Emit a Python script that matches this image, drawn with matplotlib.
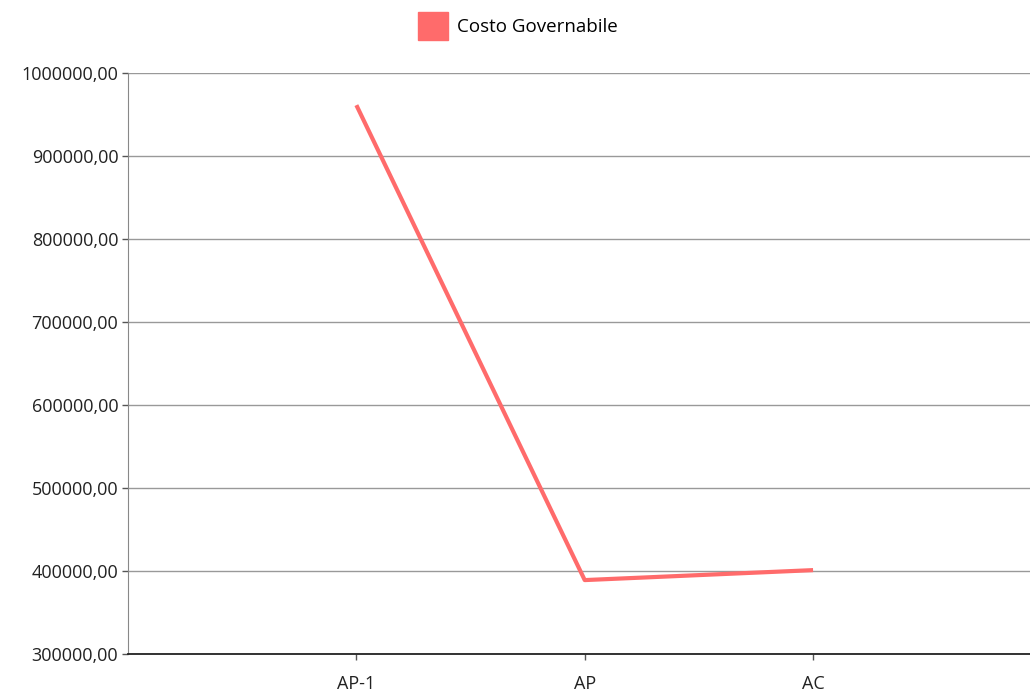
import matplotlib.pyplot as plt
from matplotlib.patches import Patch

categorie = ["AP-1", "AP", "AC"]
costo_governabile = [961000, 389000, 401000]
tick_y = [300000, 400000, 500000, 600000, 700000, 800000, 900000, 1000000]

colore = "#ff6b6b"

plt.rcParams['font.family'] = ['Open Sans', 'DejaVu Sans']

fig = plt.figure(figsize=(10.3, 6.93), dpi=100)
ax = fig.add_axes([0.1243, 0.0563, 0.8757, 0.8387])

x = list(range(len(categorie)))
ax.plot(x, costo_governabile, color=colore, lw=3, solid_capstyle='butt', zorder=3)

ax.set_xlim(-1, 2.95)
ax.set_ylim(300000, 1000000)
ax.set_xticks(x)
ax.set_xticklabels(categorie)
ax.set_yticks(tick_y)
ax.set_yticklabels([f"{v},00" for v in tick_y])

ax.grid(axis='y', color='#999999', lw=1)
ax.set_axisbelow(True)
for s in ['top', 'right']:
    ax.spines[s].set_visible(False)
ax.spines['left'].set_color('#888888')
ax.spines['bottom'].set_color('#222222')
ax.spines['bottom'].set_linewidth(1.3)
ax.tick_params(axis='both', length=4, width=1, color='#555555', labelsize=13, labelcolor='#222222')
ax.tick_params(axis='x', pad=11)
ax.tick_params(axis='y', pad=3)

fig.legend(handles=[Patch(color=colore, label="Costo Governabile")],
           loc='center', bbox_to_anchor=(0.503, 0.9625), frameon=False,
           fontsize=13.5, handlelength=1.6, handleheight=2.0, handletextpad=0.45)

fig.savefig("out.png", dpi=100)
